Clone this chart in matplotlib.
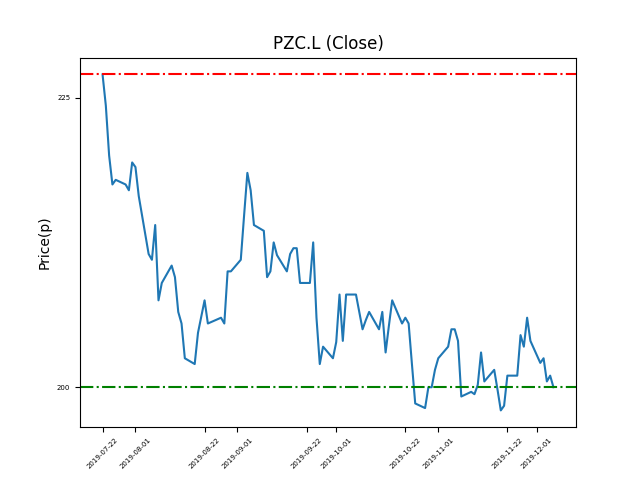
import matplotlib
matplotlib.use("Agg")
import matplotlib.pyplot as plt
import matplotlib.dates as mdates
import pandas as pd

dates = (
    ["2019-07-%02d" % d for d in [22, 23, 24, 25, 26, 29, 30, 31]]
    + ["2019-08-%02d" % d for d in [1, 2, 5, 6, 7, 8, 9, 12, 13, 14, 15, 16, 19, 20, 21, 22, 23, 27, 28, 29, 30]]
    + ["2019-09-%02d" % d for d in [2, 3, 4, 5, 6, 9, 10, 11, 12, 13, 16, 17, 18, 19, 20, 23, 24, 25, 26, 27, 30]]
    + ["2019-10-%02d" % d for d in [1, 2, 3, 4, 7, 8, 9, 10, 11, 14, 15, 16, 17, 18, 21, 22, 23, 24, 25, 28, 29, 30, 31]]
    + ["2019-11-%02d" % d for d in [1, 4, 5, 6, 7, 8, 11, 12, 13, 14, 15, 18, 19, 20, 21, 22, 25, 26, 27, 28, 29]]
    + ["2019-12-%02d" % d for d in [2, 3, 4, 5, 6]]
)

close_jul = [227.0, 224.3, 220.0, 217.5, 217.9, 217.5, 217.0, 219.4]
close_aug = [219.0, 216.5, 211.5, 211.0, 214.0, 207.5, 209.0, 210.5, 209.5, 206.5, 205.5,
             202.5, 202.0, 204.7, 206.1, 207.5, 205.5, 206.0, 205.5, 210.0, 210.0]
close_sep = [211.0, 214.8, 218.5, 217.0, 214.0, 213.5, 209.5, 210.0, 212.5, 211.4, 210.0,
             211.5, 212.0, 212.0, 209.0, 209.0, 212.5, 206.0, 202.0, 203.5, 202.5]
close_oct = [203.9, 208.0, 204.0, 208.0, 208.0, 206.5, 205.0, 205.8, 206.5, 205.0, 206.5,
             203.0, 205.3, 207.5, 205.5, 206.0, 205.5, 202.0, 198.6, 198.2, 200.0, 200.0, 201.5]
close_nov = [202.5, 203.5, 205.0, 205.0, 204.0, 199.2, 199.6, 199.4, 200.2, 203.0, 200.5,
             201.5, 199.8, 198.0, 198.4, 201.0, 201.0, 204.5, 203.5, 206.0, 204.0]
close_dec = [202.1, 202.5, 200.5, 201.0, 200.0]

close = close_jul + close_aug + close_sep + close_oct + close_nov + close_dec

resistance = 227.0
support = 200.0
yticks = [200, 225]
tick_monthdays = [1, 22]

x = pd.to_datetime(dates)

fig, ax = plt.subplots(figsize=(6.4, 4.8), dpi=100)
ax.plot(x, close, color="tab:blue", linewidth=1.5)
ax.axhline(resistance, color="red", linestyle="-.", linewidth=1.5)
ax.axhline(support, color="green", linestyle="-.", linewidth=1.5)
ax.set_title("PZC.L (Close)")
ax.set_ylabel("Price(p)")
ax.set_yticks(yticks)
ax.xaxis.set_major_locator(mdates.DayLocator(bymonthday=tick_monthdays))
ax.xaxis.set_major_formatter(mdates.DateFormatter("%Y-%m-%d"))
ax.tick_params(axis="y", labelsize=5)
ax.tick_params(axis="x", labelsize=5, labelrotation=45)
fig.savefig("out.png", dpi=100)
